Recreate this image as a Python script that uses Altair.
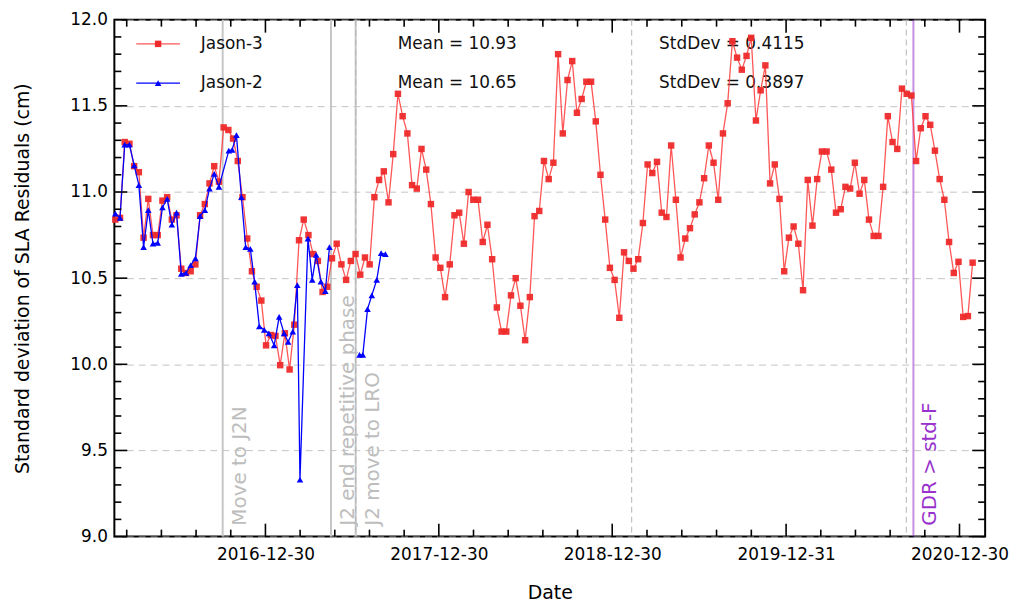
import altair as alt
import pandas as pd
import numpy as np

# ---------------- data ----------------
series_names = ["Jason-3", "Jason-2"]

# Jason-3: one value per 9.9156-day cycle, cycle 1 starting 2016-02-18
j3_cycles = list(range(1, 184))
j3_values = [
    10.84, 10.85, 11.29, 11.28, 11.15, 11.115, 10.735, 10.96, 10.75, 10.75,
    10.95, 10.97, 10.84, 10.865, 10.555, 10.53, 10.54, 10.58, 10.865, 10.93,
    11.05, 11.15, 11.06, 11.375, 11.36, 11.31, 11.18, 10.97, 10.73, 10.54,
    10.45, 10.37, 10.11, 10.17, 10.165, 9.995, 10.18, 9.97, 10.23, 10.72,
    10.84, 10.75, 10.64, 10.60, 10.42, 10.45, 10.615, 10.70, 10.58, 10.49,
    10.60, 10.64, 10.52, 10.62, 10.58, 10.97, 11.07, 11.12, 10.94, 11.22,
    11.57, 11.44, 11.34, 11.04, 11.02, 11.25, 11.13, 10.93, 10.62, 10.56,
    10.39, 10.58, 10.865, 10.88, 10.70, 11.00, 10.955, 10.955, 10.71, 10.81,
    10.61, 10.33, 10.19, 10.19, 10.40, 10.50, 10.34, 10.14, 10.39, 10.86,
    10.89, 11.18, 11.075, 11.17, 11.80, 11.34, 11.65, 11.76, 11.46, 11.54,
    11.64, 11.64, 11.41, 11.10, 10.84, 10.56, 10.49, 10.27, 10.65, 10.60,
    10.555, 10.61, 10.82, 11.16, 11.11, 11.175, 10.88, 10.855, 11.27, 10.955,
    10.62, 10.73, 10.79, 10.87, 10.94, 11.08, 11.27, 11.17, 10.955, 11.34,
    11.515, 11.875, 11.78, 11.71, 11.79, 11.895, 11.415, 11.59, 11.735, 11.05,
    11.16, 10.96, 10.54, 10.735, 10.80, 10.70, 10.43, 11.07, 10.805, 11.075,
    11.235, 11.235, 11.13, 10.88, 10.90, 11.03, 11.02, 11.17, 10.99, 11.07,
    10.84, 10.745, 10.745, 11.03, 11.44, 11.29, 11.25, 11.60, 11.57, 11.56,
    11.18, 11.37, 11.44, 11.39, 11.24, 11.075, 10.955, 10.71, 10.53, 10.595,
    10.275, 10.28, 10.59,
]

# Jason-2: days after 2016-02-18, value, and line segment (gap in mid-2017)
j2_days = [
    0.0, 9.9, 19.8, 29.7, 39.7, 49.6, 59.5, 69.4, 79.3, 89.2,
    99.2, 109.1, 119.0, 128.9, 138.8, 148.7, 158.6, 168.6, 178.5, 188.4,
    198.3, 208.2, 218.1, 238.9, 246.0, 255.0, 265.4, 274.4, 284.2, 293.2,
    303.1, 313.5, 323.3, 334.4, 344.9, 355.3, 363.7, 373.5, 383.1, 388.7,
    405.5, 414.5, 422.8, 432.7, 442.1, 450.8, 514.1, 521.0, 530.9, 539.9,
    550.3, 559.5, 568.5,
]
j2_values = [
    10.875, 10.85, 11.275, 11.275, 11.155, 11.04, 10.68, 10.895, 10.70, 10.705,
    10.91, 10.96, 10.81, 10.88, 10.525, 10.53, 10.575, 10.615, 10.86, 10.895,
    11.02, 11.105, 11.03, 11.24, 11.245, 11.33, 10.97, 10.68, 10.67, 10.48,
    10.22, 10.20, 10.18, 10.11, 10.275, 10.18, 10.13, 10.19, 10.46, 9.33,
    10.73, 10.49, 10.635, 10.48, 10.425, 10.68, 10.055, 10.055, 10.32, 10.40,
    10.49, 10.645, 10.64,
]
j2_segment = [1] * 46 + [2] * 7

stats_mean = ["Mean = 10.93", "Mean = 10.65"]
stats_std = ["StdDev = 0.4115", "StdDev = 0.3897"]

event_dates = ["2016-10-01", "2017-05-17", "2017-07-08"]
event_labels = ["Move to J2N", "J2 end repetitive phase", "J2 move to LRO"]
dashed_dates = ["2017-07-08", "2019-02-09", "2020-09-09"]
gdr_date = ["2020-09-24"]
gdr_label = ["GDR > std-F"]

x_major = ["2016-12-30", "2017-12-30", "2018-12-30", "2019-12-31", "2020-12-30"]
x_domain = ["2016-02-16", "2021-02-22"]
y_major = [9.0, 9.5, 10.0, 10.5, 11.0, 11.5, 12.0]
y_minor = [round(9.0 + 0.1 * k, 1) for k in range(1, 30) if k % 5 != 0]

# ---------------- tables ----------------
J3_START = pd.Timestamp("2016-02-18")
CYCLE_DAYS = 9.9156

j3 = pd.DataFrame({
    "date": J3_START + pd.to_timedelta((np.array(j3_cycles) - 1) * CYCLE_DAYS, unit="D"),
    "value": j3_values,
})
j2 = pd.DataFrame({
    "date": J3_START + pd.to_timedelta(j2_days, unit="D"),
    "value": j2_values,
    "seg": j2_segment,
})

maj = pd.to_datetime(x_major)
dom0, dom1 = pd.to_datetime(x_domain)
step = (maj[1] - maj[0]) / 5
minor = []
for a, b in zip(maj[:-1], maj[1:]):
    for k in range(1, 5):
        minor.append(a + (b - a) * k / 5)
for k in range(1, 5):
    minor.append(maj[0] - step * k)
    minor.append(maj[-1] + step * k)
minor = [t for t in minor if dom0 <= t <= dom1]

xmaj_df = pd.DataFrame({"date": maj})
xmin_df = pd.DataFrame({"date": minor})
ymaj_df = pd.DataFrame({"value": y_major})
ymin_df = pd.DataFrame({"value": y_minor})

events_df = pd.DataFrame({"date": pd.to_datetime(event_dates), "label": event_labels})
dashed_df = pd.DataFrame({"date": pd.to_datetime(dashed_dates)})
gdr_df = pd.DataFrame({"date": pd.to_datetime(gdr_date), "label": gdr_label})
one = pd.DataFrame({"k": [0]})

W, H = 876, 520
FONT = "DejaVu Sans"


def dt(s):
    t = pd.Timestamp(s)
    return alt.DateTime(year=t.year, month=t.month, date=t.day)


X = alt.X(
    "date:T",
    scale=alt.Scale(domain=[dt(x_domain[0]), dt(x_domain[1])], nice=False),
    axis=alt.Axis(
        values=[dt(s) for s in x_major], format="%Y-%m-%d", labelFontSize=17,
        labelPadding=10, ticks=False, domain=False, grid=False, labelFlush=False,
        labelOverlap=False, labelColor="black", labelFont=FONT,
        title="Date", titleFontSize=19, titleFontWeight="normal", titleColor="black",
        titleFont=FONT, titlePadding=21,
    ),
)
Y = alt.Y(
    "value:Q",
    scale=alt.Scale(domain=[9.0, 12.0], nice=False, zero=False),
    axis=alt.Axis(
        values=y_major, format=".1f", labelFontSize=17, labelPadding=7,
        ticks=False, domain=False, grid=True, gridDash=[7, 5], gridColor="#c4c4c4",
        gridWidth=1, labelColor="black", labelFont=FONT,
        title="Standard deviation of SLA Residuals (cm)", titleFontSize=19,
        titleFontWeight="normal", titleColor="black", titleFont=FONT, titlePadding=38,
    ),
)

layers = []

# event lines
layers.append(alt.Chart(events_df).mark_rule(color="#c6c6c6", strokeWidth=2).encode(x=X))
layers.append(alt.Chart(dashed_df).mark_rule(color="#b4b4b4", strokeWidth=1, strokeDash=[6, 4]).encode(x=X))
layers.append(alt.Chart(gdr_df).mark_rule(color="#9932cc", opacity=0.55, strokeWidth=2).encode(x=X))

# event labels
layers.append(alt.Chart(events_df).mark_text(
    angle=270, align="left", baseline="middle", dy=17, fontSize=20, font=FONT,
    color="#bdbdbd").encode(x=X, y=alt.value(509), text="label:N"))
layers.append(alt.Chart(gdr_df).mark_text(
    angle=270, align="left", baseline="middle", dy=17, fontSize=20, font=FONT,
    color="#9932cc").encode(x=X, y=alt.value(509), text="label:N"))

# statistics text
for i in range(2):
    yy = 24 + 39.5 * i
    layers.append(alt.Chart(one).mark_text(align="left", baseline="middle", fontSize=17, font=FONT, color="#111111")
                  .encode(x=alt.value(285), y=alt.value(yy), text=alt.value(stats_mean[i])))
    layers.append(alt.Chart(one).mark_text(align="left", baseline="middle", fontSize=17, font=FONT, color="#111111")
                  .encode(x=alt.value(548), y=alt.value(yy), text=alt.value(stats_std[i])))

# series
layers.append(alt.Chart(j3).mark_line(color="#ff3a3a", strokeWidth=1.3, opacity=0.85).encode(x=X, y=Y))
layers.append(alt.Chart(j3).mark_point(shape="square", filled=True, size=42, color="#ee2a2a", opacity=0.95).encode(x=X, y=Y))
layers.append(alt.Chart(j2).mark_line(color="#0000ff", strokeWidth=1.3).encode(x=X, y=Y, detail="seg:N"))
layers.append(alt.Chart(j2).mark_point(shape="triangle-up", filled=True, size=44, color="#0000ff", opacity=1).encode(x=X, y=Y))

# inward ticks on all four sides
TK = dict(color="black", strokeWidth=1.6)
layers.append(alt.Chart(xmaj_df).mark_rule(**TK).encode(x=X, y=alt.value(H), y2=alt.value(H - 13)))
layers.append(alt.Chart(xmin_df).mark_rule(**TK).encode(x=X, y=alt.value(H), y2=alt.value(H - 7)))
layers.append(alt.Chart(xmaj_df).mark_rule(**TK).encode(x=X, y=alt.value(0), y2=alt.value(13)))
layers.append(alt.Chart(xmin_df).mark_rule(**TK).encode(x=X, y=alt.value(0), y2=alt.value(7)))
layers.append(alt.Chart(ymaj_df).mark_rule(**TK).encode(y=Y, x=alt.value(0), x2=alt.value(13)))
layers.append(alt.Chart(ymin_df).mark_rule(**TK).encode(y=Y, x=alt.value(0), x2=alt.value(7)))
layers.append(alt.Chart(ymaj_df).mark_rule(**TK).encode(y=Y, x=alt.value(W), x2=alt.value(W - 13)))
layers.append(alt.Chart(ymin_df).mark_rule(**TK).encode(y=Y, x=alt.value(W), x2=alt.value(W - 7)))

# legend (top-left, inside)
leg_colors = {"Jason-3": ("#ff3a3a", "#ee2a2a", "square"), "Jason-2": ("#0000ff", "#0000ff", "triangle-up")}
for i, name in enumerate(series_names):
    yy = 24.3 + 39.4 * i
    lc, mc, shp = leg_colors[name]
    layers.append(alt.Chart(one).mark_rule(color=lc, strokeWidth=1.3, opacity=0.85 if i == 0 else 1)
                  .encode(x=alt.value(22), x2=alt.value(66), y=alt.value(yy)))
    layers.append(alt.Chart(one).mark_point(shape=shp, filled=True, size=42 if i == 0 else 44, color=mc, opacity=1)
                  .encode(x=alt.value(44), y=alt.value(yy)))
    layers.append(alt.Chart(one).mark_text(align="left", baseline="middle", fontSize=17, font=FONT, color="#111111")
                  .encode(x=alt.value(87), y=alt.value(yy), text=alt.value(name)))

chart = (
    alt.layer(*layers)
    .properties(
        width=W, height=H,
        padding={"left": 107, "top": 10, "right": 24, "bottom": 64},
        autosize=alt.AutoSizeParams(type="none"),
    )
    .configure(font=FONT)
    .configure_view(stroke="black", strokeWidth=2)
)

chart.save("out.html", embed_options={"renderer": "svg", "actions": False})
